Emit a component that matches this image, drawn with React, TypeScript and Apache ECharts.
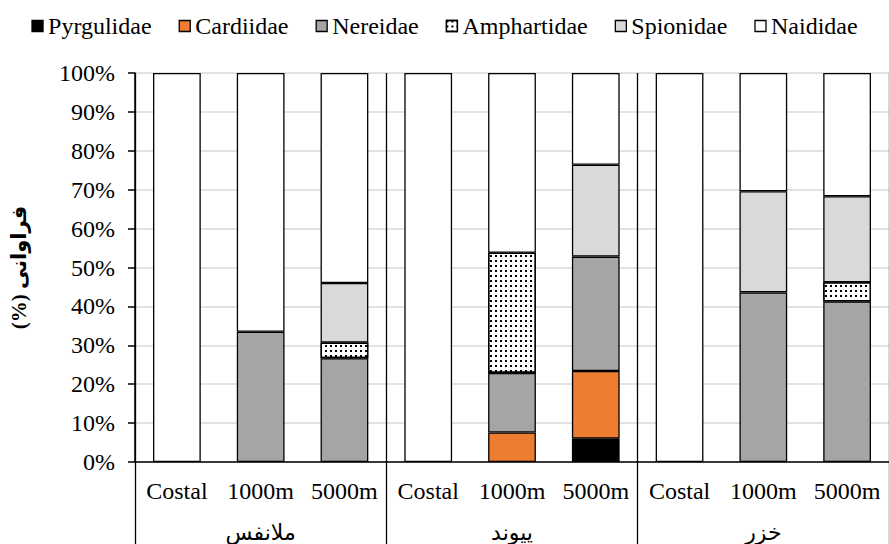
import React, { useEffect, useRef } from "react";
import * as echarts from "echarts";

const categories = ["Costal", "1000m", "5000m", "Costal", "1000m", "5000m", "Costal", "1000m", "5000m"];
const groups = ["ملانفس", "پیوند", "خزر"];
const seriesNames = ["Pyrgulidae", "Cardiidae", "Nereidae", "Amphartidae", "Spionidae", "Naididae"];

const pyrgulidae = [0, 0, 0, 0, 0, 6.0, 0, 0, 0];
const cardiidae = [0, 0, 0, 0, 7.6, 17.4, 0, 0, 0];
const nereidae = [0, 33.5, 26.7, 0, 15.3, 29.4, 0, 43.6, 41.3];
const amphartidae = [0, 0, 4.0, 0, 30.9, 0, 0, 0, 4.9];
const spionidae = [0, 0, 15.3, 0, 0, 23.6, 0, 26.0, 22.1];
const naididae = [100, 66.5, 54.0, 100, 46.2, 23.6, 100, 30.4, 31.7];

const yTicks = [0, 10, 20, 30, 40, 50, 60, 70, 80, 90, 100];

const colors = ["#000000", "#ED7D31", "#A5A5A5", "#FFFFFF", "#D9D9D9", "#FFFFFF"];
const values = [pyrgulidae, cardiidae, nereidae, amphartidae, spionidae, naididae];

const FONT = "Liberation Serif, Times New Roman, serif";
const AR_FONT = "Liberation Serif, DejaVu Sans, serif";

export default function App() {
  const ref = useRef<HTMLDivElement>(null);
  useEffect(() => {
    if (!ref.current) return;
    const chart = echarts.init(ref.current, null, { renderer: "svg" });
    const series = seriesNames.map((name, i) => {
      const s: any = {
        name,
        type: "bar",
        stack: "total",
        xAxisIndex: 0,
        barWidth: "57%",
        data: values[i].map((v) => (v === 0 ? null : v)),
        itemStyle: {
          color: colors[i],
          borderColor: "#000",
          borderWidth: 1.3,
        },
      };
      if (name === "Amphartidae") {
        s.itemStyle.decal = {
          symbol: "rect",
          symbolSize: 1,
          color: "#000",
          backgroundColor: "#fff",
          dashArrayX: [1.5, 2.5],
          dashArrayY: [1.5, 2.5],
          rotation: 0,
        };
      }
      return s;
    });
    chart.setOption({
      animation: false,
      backgroundColor: "#fff",
      textStyle: { fontFamily: FONT },
      legend: {
        data: seriesNames,
        top: 9,
        left: "center",
        itemWidth: 11,
        itemHeight: 11,
        itemGap: 27,
        icon: "rect",
        itemStyle: { borderColor: "#000", borderWidth: 1.3 },
        textStyle: { fontFamily: FONT, fontSize: 24, color: "#000" },
      },
      grid: { left: 130, right: -8, top: 73, bottom: 82, containLabel: false },
      xAxis: [
        {
          type: "category",
          data: categories,
          position: "bottom",
          axisLine: { show: true, lineStyle: { color: "#000", width: 1.5 } },
          axisTick: { show: false },
          axisLabel: { margin: 17, fontFamily: FONT, fontSize: 24, color: "#000", interval: 0 },
          splitLine: { show: false },
        },
        {
          type: "category",
          data: groups,
          position: "bottom",
          offset: 0,
          axisLine: { show: false },
          axisTick: { show: true, length: 82, lineStyle: { color: "#000", width: 1.3 } },
          axisLabel: { margin: 59, fontFamily: AR_FONT, fontSize: 22, color: "#000" },
          splitLine: { show: true, lineStyle: { color: "#000", width: 1.3 } },
        },
      ],
      yAxis: {
        type: "value",
        min: 0,
        max: 100,
        interval: 10,
        name: "فراوانی (%)\u200F",
        nameLocation: "middle",
        nameRotate: 90,
        nameGap: 106,
        nameTextStyle: { fontFamily: AR_FONT, fontSize: 21, fontWeight: "bold", color: "#000" },
        axisLine: { show: true, lineStyle: { color: "#000", width: 1.5 } },
        axisTick: { show: true, inside: false, length: 7, lineStyle: { color: "#000", width: 1.5 } },
        axisLabel: {
          margin: 20,
          fontFamily: FONT,
          fontSize: 24,
          color: "#000",
          formatter: (v: number) => (yTicks.includes(v) ? v + "%" : ""),
        },
        splitLine: { show: true, lineStyle: { color: "#D9D9D9", width: 1.5 } },
      },
      series,
    });
    return () => chart.dispose();
  }, []);
  return <div ref={ref} style={{ position: "absolute", left: 0, top: 0, width: 889, height: 544 }} />;
}
